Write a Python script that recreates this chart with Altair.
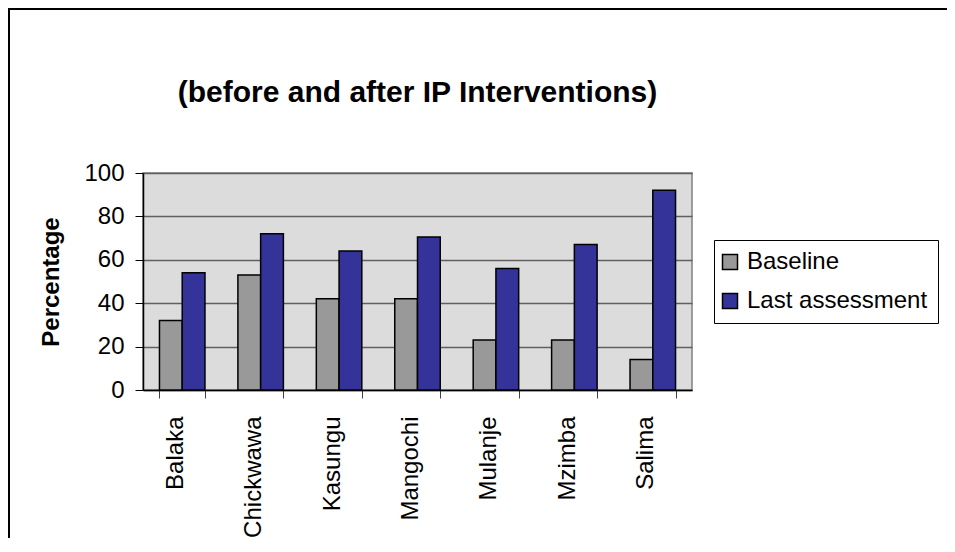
import altair as alt
import pandas as pd

districts = ["Balaka", "Chickwawa", "Kasungu", "Mangochi", "Mulanje", "Mzimba", "Salima"]
series = ["Baseline", "Last assessment"]
baseline = [32, 53, 42, 42, 23, 23, 14]
last_assessment = [54, 72, 64, 70.5, 56, 67, 92]
y_ticks = [0, 20, 40, 60, 80, 100]
colors = ["#999999", "#333399"]

rows = []
for d, b, l in zip(districts, baseline, last_assessment):
    rows.append({"District": d, "Series": series[0], "Value": b})
    rows.append({"District": d, "Series": series[1], "Value": l})
df = pd.DataFrame(rows)

FONT = "Liberation Sans, Arial, sans-serif"

bars = alt.Chart(df).mark_bar(stroke="black", strokeWidth=1.5).encode(
    x=alt.X(
        "District:N",
        sort=districts,
        scale=alt.Scale(paddingInner=0.42, paddingOuter=0.21),
        axis=alt.Axis(
            title=None,
            labelAngle=-90,
            labelFontSize=24,
            labelColor="black",
            labelPadding=18,
            labelOffset=-7,
            labelLimit=0,
            tickSize=8,
            tickBand="extent",
            tickColor="#404040",
            domainColor="black",
            domainWidth=1.5,
            grid=False,
        ),
    ),
    xOffset=alt.XOffset("Series:N", sort=series, scale=alt.Scale(paddingInner=0, paddingOuter=0)),
    y=alt.Y(
        "Value:Q",
        scale=alt.Scale(domain=[0, 100], nice=False),
        axis=alt.Axis(
            values=y_ticks,
            title="Percentage",
            titleFontSize=24,
            titleFontWeight="bold",
            titleColor="black",
            titleX=-85,
            titleY=108.5,
            titleAngle=-90,
            titleAlign="center",
            titleBaseline="alphabetic",
            labelFontSize=24,
            labelColor="black",
            labelPadding=11,
            tickSize=8,
            tickColor="black",
            domainColor="black",
            domainWidth=1.5,
            gridColor="#606060",
            gridWidth=1.5,
        ),
    ),
    color=alt.Color(
        "Series:N",
        sort=series,
        scale=alt.Scale(domain=series, range=colors),
        legend=alt.Legend(
            title=None,
            orient="none",
            legendX=571,
            legendY=67,
            labelFontSize=24,
            labelColor="black",
            labelOffset=5,
            labelLimit=0,
            symbolType="square",
            symbolSize=225,
            symbolOffset=-6,
            symbolStrokeColor="black",
            symbolStrokeWidth=1.5,
            strokeColor="black",
            fillColor="white",
            padding=10,
            rowPadding=15,
        ),
    ),
)

frame = alt.Chart(pd.DataFrame({"k": [0]})).mark_rect(
    fillOpacity=0, stroke="black", strokeWidth=2
).encode(
    x=alt.value(-134), x2=alt.value(1000), y=alt.value(-164), y2=alt.value(600)
)

chart = alt.layer(frame, bars).properties(
    width=549,
    height=217,
    autosize=alt.AutoSizeParams(type="none"),
    padding={"left": 135, "top": 165, "right": 255, "bottom": 148},
    background="white",
    title=alt.Title(
        "(before and after IP Interventions)",
        fontSize=30,
        fontWeight="bold",
        color="black",
        anchor="middle",
        frame="group",
        offset=-124,
        baseline="alphabetic",
    ),
).configure(font=FONT).configure_view(fill="#dcdcdc", stroke="#808080", strokeWidth=1.5)

chart.save("out.html", embed_options={"renderer": "svg", "actions": False})
